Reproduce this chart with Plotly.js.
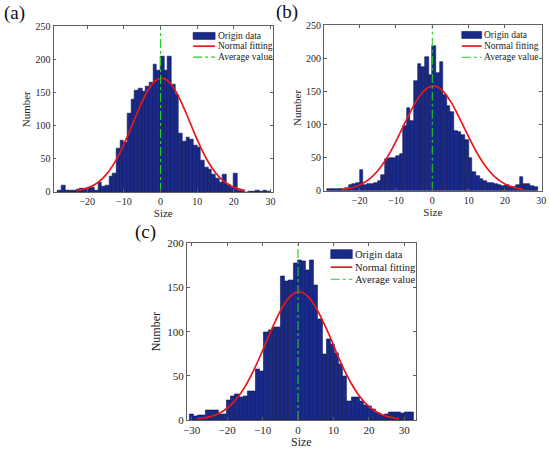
<!DOCTYPE html>
<html>
<head>
<meta charset="utf-8">
<script src="https://cdn.plot.ly/plotly-3.0.1.min.js"></script>
<style>
html,body{margin:0;padding:0;background:#fff;}
#chart{width:550px;height:449px;}
</style>
</head>
<body>
<div id="chart"></div>
<script>
// ---------- Panel (a) data ----------
const aBinStart = -28;
const aBinWidth = 1;
const aCounts = [3,10,2,2,2,4,5,6,7,7,3,15,9,10,24,28,65,78,75,118,140,153,157,152,160,165,192,184,205,184,205,162,148,88,76,83,79,70,67,48,37,34,27,21,14,26,11,7,28,3,1,0,1,1,2,1,2,1];
const aFitX = [-23,-21,-19,-17,-15,-13,-11,-9,-7,-5,-3,-1,1,3,5,7,9,11,13,15,17,19,21,23];
const aFitY = [2.0,4.1,8.1,14.7,25.1,40.2,60.2,84.5,111.0,136.5,157.3,169.6,171.3,162.0,143.4,118.9,92.3,67.1,45.7,29.1,17.4,9.7,5.1,2.5];
const aMean = 0;

// ---------- Panel (b) data ----------
const bBinStart = -29;
const bBinWidth = 1;
const bCounts = [2,2,2,2,3,4,9,10,11,31,8,10,10,11,15,24,48,49,50,53,56,97,125,105,166,191,187,201,175,218,178,194,145,128,118,90,88,84,76,50,28,22,17,14,12,12,10,9,7,9,6,6,8,20,10,10,7,6];
const bFitX = [-25,-23,-21,-19,-17,-15,-13,-11,-9,-7,-5,-3,-1,1,3,5,7,9,11,13,15,17,19,21,23,25];
const bFitY = [1.7,3.4,6.3,11.3,18.9,30.1,45.1,63.9,85.6,108.3,129.5,146.3,156.1,157.4,150.0,135.1,114.9,92.4,70.2,50.4,34.2,21.9,13.3,7.6,4.1,2.1];
const bMean = 0;

// ---------- Panel (c) data ----------
const cBinStart = -30.6;
const cBinWidth = 1.17;
const cCounts = [7,4.5,5,5,11,11,11,6,7,22,27,29,26,27,33,33,57,55,99,101,105,105,163,157,158,177,181,180,169,181,153,114,74,91,86,76,63,49,21,26,26,21,17,15,12,8,5,6,9,9,9,8,9,9];
const cFitX = [-28.5,-27,-25,-23,-21,-19,-17,-15,-13,-11,-9,-7,-5,-3,-1,1,3,5,7,9,11,13,15,17,19,21,23,25,27,28.5];
const cFitY = [1.6,2.0,3.6,6.3,10.5,16.8,25.7,37.5,52.2,69.3,87.9,106.5,123.3,136.1,143.6,144.6,139.0,127.6,111.9,94.5,74.8,57.1,41.6,28.9,19.2,12.2,7.4,4.3,2.4,1.5];
const cMean = 0;

// ---------- Labels ----------
const panelLabels = ['(a)','(b)','(c)'];
const seriesNames = ['Origin data','Normal fitting','Average value'];
const xTitle = 'Size';
const yTitle = 'Number';
const abXTicks = [-20,-10,0,10,20,30];
const cXTicks = [-30,-20,-10,0,10,20,30];
const abYTicks = [0,50,100,150,200,250];
const cYTicks = [0,50,100,150,200];

// ---------- Styles ----------
const FONT = '"Liberation Serif", "Times New Roman", serif';
const barColor = '#1a2a8a';
const barEdge = '#0b1650';
const fitColor = '#e8171b';
const meanColor = '#22d022';
const fitWidth = 1.7;
const meanWidth = 1.1;

function binCenters(start, width, counts){
  return counts.map((_, i) => start + width * (i + 0.5));
}

function panelTraces(counts, start, width, fitX, fitY, mean, yTop, xa, ya){
  return [
    {type:'bar', x: binCenters(start, width, counts), y: counts, width: width,
     name: seriesNames[0], xaxis: xa, yaxis: ya, showlegend:false,
     marker:{color: barColor, line:{color: barEdge, width: 0.6}}, hoverinfo:'x+y'},
    {type:'scatter', mode:'lines', x: fitX, y: fitY, name: seriesNames[1],
     xaxis: xa, yaxis: ya, showlegend:false,
     line:{color: fitColor, width: fitWidth, shape:'spline'}},
    {type:'scatter', mode:'lines', x:[mean, mean], y:[0, yTop], name: seriesNames[2],
     xaxis: xa, yaxis: ya, showlegend:false,
     line:{color: meanColor, width: meanWidth, dash:'dashdot'}}
  ];
}

const data = [].concat(
  panelTraces(aCounts, aBinStart, aBinWidth, aFitX, aFitY, aMean, 250, 'x', 'y'),
  panelTraces(bCounts, bBinStart, bBinWidth, bFitX, bFitY, bMean, 250, 'x2', 'y2'),
  panelTraces(cCounts, cBinStart, cBinWidth, cFitX, cFitY, cMean, 200, 'x3', 'y3')
);

// Legend boxes drawn in axis-domain coordinates (one per panel)
const shapes = [];
const annotations = [];
function addLegend(axSuffix, sx0, sx1, tx, rows, rectH, fs){
  const xr = 'x' + axSuffix + ' domain', yr = 'y' + axSuffix + ' domain';
  shapes.push({type:'rect', xref:xr, yref:yr, x0:sx0, x1:sx1, y0:rows[0]-rectH/2, y1:rows[0]+rectH/2,
    fillcolor:barColor, line:{color:barEdge, width:0.6}});
  shapes.push({type:'line', xref:xr, yref:yr, x0:sx0, x1:sx1, y0:rows[1], y1:rows[1],
    line:{color:fitColor, width:fitWidth}});
  shapes.push({type:'line', xref:xr, yref:yr, x0:sx0, x1:sx1, y0:rows[2], y1:rows[2],
    line:{color:meanColor, width:meanWidth, dash:'dashdot'}});
  seriesNames.forEach((nm, i) => {
    annotations.push({text:nm, xref:xr, yref:yr, x:tx, y:rows[i], xanchor:'left', yanchor:'middle',
      showarrow:false, font:{family:FONT, size:fs, color:'#1a1a1a'}});
  });
}
addLegend('',  0.636, 0.736, 0.740, [0.943, 0.881, 0.815], 0.042, 9.5);
addLegend('2', 0.633, 0.724, 0.728, [0.940, 0.873, 0.805], 0.042, 9.5);
addLegend('3', 0.628, 0.722, 0.725, [0.939, 0.865, 0.797], 0.050, 10.5);

function axisStyle(extra, fs){
  return Object.assign({
    showgrid:false, zeroline:false, showline:true, mirror:'ticks',
    linecolor:'#606060', linewidth:0.8, ticks:'inside', ticklen:3, tickwidth:0.8,
    tickcolor:'#606060', tickfont:{family:FONT, size:fs, color:'#262626'},
    fixedrange:true
  }, extra);
}

const labelFont = {family:FONT, size:19, color:'#111'};
annotations.push(
  {text:panelLabels[0], xref:'paper', yref:'paper', x:14/550, y:1-13/449, xanchor:'center', yanchor:'middle', showarrow:false, font:labelFont},
  {text:panelLabels[1], xref:'paper', yref:'paper', x:287/550, y:1-12/449, xanchor:'center', yanchor:'middle', showarrow:false, font:labelFont},
  {text:panelLabels[2], xref:'paper', yref:'paper', x:145/550, y:1-232/449, xanchor:'center', yanchor:'middle', showarrow:false, font:labelFont}
);

const layout = {
  width:550, height:449,
  margin:{l:0, r:0, t:0, b:0},
  paper_bgcolor:'#ffffff', plot_bgcolor:'#ffffff',
  bargap:0, showlegend:false,
  font:{family:FONT, color:'#262626'},
  xaxis: axisStyle({domain:[0.0973,0.4964], anchor:'y', range:[-29.2,30.7], tickmode:'array', tickvals:abXTicks,
    title:{text:xTitle, font:{family:FONT, size:11, color:'#262626'}, standoff:0}}, 10),
  yaxis: axisStyle({domain:[0.5724,0.9410], anchor:'x', range:[0,250], tickmode:'array', tickvals:abYTicks,
    title:{text:yTitle, font:{family:FONT, size:11, color:'#262626'}, standoff:2}}, 10),
  xaxis2: axisStyle({domain:[0.5891,0.9849], anchor:'y2', range:[-29.8,30.1], tickmode:'array', tickvals:abXTicks,
    title:{text:xTitle, font:{family:FONT, size:11, color:'#262626'}, standoff:0}}, 10),
  yaxis2: axisStyle({domain:[0.5753,0.9443], anchor:'x2', range:[0,250], tickmode:'array', tickvals:abYTicks,
    title:{text:yTitle, font:{family:FONT, size:11, color:'#262626'}, standoff:2}}, 10),
  xaxis3: axisStyle({domain:[0.3395,0.7564], anchor:'y3', range:[-31.4,33.3], tickmode:'array', tickvals:cXTicks,
    title:{text:xTitle, font:{family:FONT, size:12, color:'#262626'}, standoff:1}}, 11),
  yaxis3: axisStyle({domain:[0.0646,0.4581], anchor:'x3', range:[0,200], tickmode:'array', tickvals:cYTicks,
    title:{text:yTitle, font:{family:FONT, size:12, color:'#262626'}, standoff:3}}, 11),
  shapes: shapes,
  annotations: annotations
};

Plotly.newPlot('chart', data, layout, {displayModeBar:false, responsive:false});
</script>
</body>
</html>
